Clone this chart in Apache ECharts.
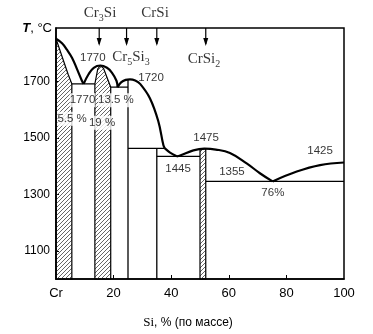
<!DOCTYPE html>
<html><head><meta charset="utf-8">
<script src="https://cdn.jsdelivr.net/npm/echarts@6/dist/echarts.min.js"></script>
<style>html,body{margin:0;padding:0;background:#fff}#c{width:373px;height:334px}</style>
</head><body><div id="c"></div>
<script>
// ---- data (Si, mass % ; T, °C) ----
const xTicks = [0, 20, 40, 60, 80, 100];
const xTickLabels = ['Cr', '20', '40', '60', '80', '100'];
const yTicks = [1100, 1300, 1500, 1700];

const liqCr     = [[0,1852],[2.1,1836],[3.8,1813],[5.6,1784],[7.3,1744],[9.0,1703],[9.6,1692]];
const liqCr3Si  = [[9.6,1692],[11.3,1726],[13.1,1749],[15.4,1757],[17.7,1749],[19.4,1732],[21.0,1703],[21.4,1680]];
const liqCr5Si3 = [[21.4,1680],[22.6,1697],[24.2,1706],[25.7,1708],[27.5,1704],[29.2,1692],[32.6,1641],[35.5,1560],[37.3,1474],[37.8,1463]];
const liqCrSi   = [[37.8,1463],[39.6,1448],[41.9,1435]];
const liqCrSi2  = [[41.9,1435],[43.1,1438],[47.7,1456],[51.5,1462],[55.5,1459],[60.4,1447],[66.2,1410],[70.8,1375],[75.2,1346]];
const liqSi     = [[75.2,1346],[83.6,1381],[91.7,1404],[100,1413]];

const eutCrCr3Si    = [[5.5,1692],[13.5,1692]];
const eutCr3SiCr5Si3= [[19,1680],[25,1680]];
const periCrSi      = [[25,1463],[37.8,1463]];
const eutCrSiCrSi2  = [[35,1435],[50,1435]];
const eutCrSi2Si    = [[52,1346],[100,1346]];
const lineCr5Si3    = [[25,1000],[25,1707]];
const lineCrSi      = [[35,1000],[35,1463]];

const ssCr    = [[0,1000],[0,1852],[2.1,1789],[4.2,1726],[5.5,1692],[5.5,1000]];
const ssCr3Si = [[13.5,1000],[13.5,1692],[14.5,1745],[15.4,1757],[16.5,1747],[19,1680],[19,1000]];
const ssCrSi2 = [[50,1000],[50,1458],[52,1462],[52,1000]];

const arrowX = [15, 24.5, 35, 52];
const compounds = [
  [15.3, 1942, '{a|Cr}{b|3}{a|Si}'],
  [34.4, 1942, '{a|CrSi}'],
  [26.0, 1786, '{a|Cr}{b|5}{a|Si}{b|3}'],
  [51.4, 1779, '{a|CrSi}{b|2}']
];
const notes = [
  [12.8, 1786, '1770', false],
  [33.0, 1713, '1720', false],
  [9.2, 1634, '1770', true],
  [20.8, 1634, '13.5 %', true],
  [5.6, 1568, '5.5 %', true],
  [16.0, 1554, '19 %', true],
  [52.1, 1502, '1475', false],
  [42.4, 1391, '1445', false],
  [61.1, 1381, '1355', false],
  [75.3, 1305, '76%', false],
  [91.7, 1454, '1425', false]
];

// ---- rendering ----
const NUMFONT = "'Liberation Sans',sans-serif";
const SERIF = "'Liberation Serif','DejaVu Serif',serif";
const hatch = (() => {
  const c = document.createElement('canvas'); c.width = 4; c.height = 4;
  const g = c.getContext('2d'); g.strokeStyle = '#333'; g.lineWidth = 0.75;
  g.beginPath(); g.moveTo(0,4); g.lineTo(4,0); g.moveTo(-1,1); g.lineTo(1,-1); g.moveTo(3,5); g.lineTo(5,3); g.stroke();
  return c;
})();
const lineS = (data, w, smooth) => ({type:'line', data, symbol:'none', smooth: smooth || false,
  lineStyle:{color:'#000', width:w}, z:3, silent:true});
const polyS = (pts) => ({type:'custom', data:[[0,1000]], z:1, silent:true,
  renderItem:(p, api) => ({type:'polygon', shape:{points: pts.map(q => api.coord(q))},
    style:{fill:{image:hatch, repeat:'repeat'}, stroke:'#000', lineWidth:1.2}})});

const chart = echarts.init(document.getElementById('c'), null, {renderer:'canvas'});
chart.setOption({
  animation:false,
  backgroundColor:'#fff',
  grid:{left:56, right:29, top:28, bottom:49, show:true, borderColor:'#000', borderWidth:1.5},
  xAxis:{type:'value', min:0, max:100,
    axisLine:{lineStyle:{color:'#000', width:1.5}},
    axisTick:{inside:true, length:4, customValues:[20,40,60,80], lineStyle:{color:'#000'}},
    axisLabel:{customValues:xTicks, margin:8, color:'#000', fontSize:13, fontFamily:NUMFONT,
      formatter:(v) => xTickLabels[xTicks.indexOf(v)]},
    splitLine:{show:false},
    name:'{s|Si}, % (по массе)', nameLocation:'middle', nameGap:37,
    nameTextStyle:{color:'#000', fontSize:12, fontFamily:NUMFONT, padding:[0,24,0,0],
      rich:{s:{fontFamily:SERIF, fontSize:13, color:'#000'}}}},
  yAxis:{type:'value', min:1000, max:1890,
    axisLine:{show:true, lineStyle:{color:'#000', width:1.5}},
    axisTick:{show:true, inside:true, length:3, customValues:yTicks, lineStyle:{color:'#000'}},
    axisLabel:{customValues:yTicks, margin:6, color:'#000', fontSize:12, fontFamily:NUMFONT,
      formatter:(v) => String(v)},
    splitLine:{show:false},
    name:'{i|T}, °C', nameLocation:'end', nameGap:0,
    nameTextStyle:{color:'#000', fontSize:13, fontFamily:NUMFONT, align:'right', verticalAlign:'middle', padding:[0,4,0,0],
      rich:{i:{fontStyle:'italic', fontWeight:'bold', fontSize:13, fontFamily:NUMFONT}}}},
  series:[
    polyS(ssCr), polyS(ssCr3Si), polyS(ssCrSi2),
    lineS(liqCr, 2.2, 0.4), lineS(liqCr3Si, 2.2, 0.4), lineS(liqCr5Si3, 2.2, 0.4),
    lineS(liqCrSi, 2.2, 0.3), lineS(liqCrSi2, 2.2, 0.4), lineS(liqSi, 2.2, 0.4),
    lineS(eutCrCr3Si, 1.3), lineS(eutCr3SiCr5Si3, 1.3), lineS(periCrSi, 1.3),
    lineS(eutCrSiCrSi2, 1.3), lineS(eutCrSi2Si, 1.3), lineS(lineCr5Si3, 1.3), lineS(lineCrSi, 1.3),
    {type:'custom', data: arrowX.map(x => [x, 1890]), clip:false, z:4, silent:true,
     renderItem:(p, api) => { const pt = api.coord([api.value(0), api.value(1)]);
       return {type:'group', children:[
         {type:'line', shape:{x1:pt[0], y1:pt[1], x2:pt[0], y2:pt[1]+16}, style:{stroke:'#000', lineWidth:1.2}},
         {type:'polygon', shape:{points:[[pt[0]-2.5,pt[1]+10],[pt[0]+2.5,pt[1]+10],[pt[0],pt[1]+18]]}, style:{fill:'#000'}}]}; }},
    {type:'scatter', symbolSize:0, clip:false, z:5, silent:true,
     data: compounds.map(c => ({value:[c[0], c[1]], label:{formatter:c[2]}})),
     label:{show:true, position:'inside', color:'#000',
       rich:{a:{fontFamily:SERIF, fontSize:15, lineHeight:21, color:'#000'},
             b:{fontFamily:SERIF, fontSize:10, verticalAlign:'bottom', color:'#000'}}}},
    {type:'scatter', symbolSize:0, clip:false, z:6, silent:true,
     data: notes.map(n => ({value:[n[0], n[1]], label:{formatter:n[2],
       backgroundColor: n[3] ? '#fff' : 'transparent', padding: n[3] ? [1,0,1,0] : 0}})),
     label:{show:true, position:'inside', color:'#000', fontSize:11.5, fontFamily:NUMFONT}}
  ]
});
</script>
</body></html>
